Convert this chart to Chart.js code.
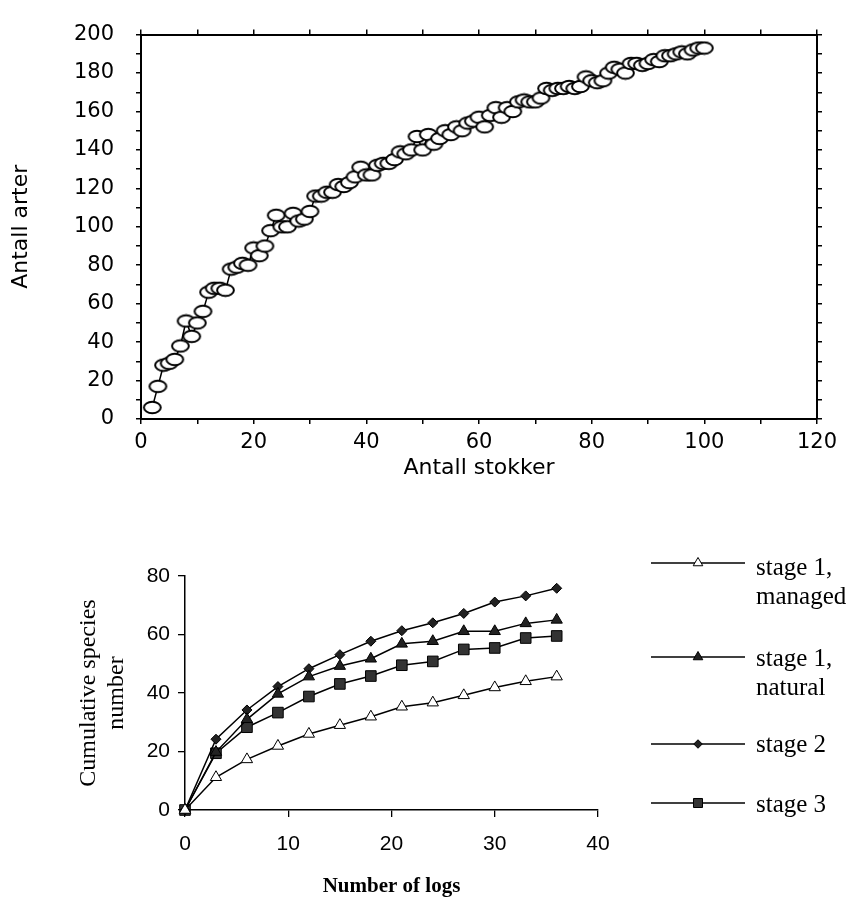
<!DOCTYPE html>
<html>
<head>
<meta charset="utf-8">
<script src="https://cdn.jsdelivr.net/npm/chart.js@4.4.1/dist/chart.umd.min.js"></script>
<style>
  body { margin: 0; background: #fff; width: 851px; height: 902px; position: relative; overflow: hidden; }
  #topChart { position: absolute; left: 0; top: 0; }
  #bottomChart { position: absolute; left: 0; top: 500px; }
</style>
</head>
<body>
<canvas id="topChart" width="851" height="500"></canvas>
<canvas id="bottomChart" width="851" height="402"></canvas>
<script>
// top chart: species accumulation (Antall stokker vs Antall arter)
const logs = [2, 3, 4, 5, 6, 7, 8, 9, 10, 11, 12, 13, 14, 15, 16, 17, 18, 19, 20,
	21, 22, 23, 24, 25, 26, 27, 28, 29, 30, 31, 32, 33, 34, 35, 36, 37, 38, 39, 40,
	41, 42, 43, 44, 45, 46, 47, 48, 49, 50, 51, 52, 53, 54, 55, 56, 57, 58, 59, 60,
	61, 62, 63, 64, 65, 66, 67, 68, 69, 70, 71, 72, 73, 74, 75, 76, 77, 78, 79, 80,
	81, 82, 83, 84, 85, 86, 87, 88, 89, 90, 91, 92, 93, 94, 95, 96, 97, 98, 99, 100];
const species = [6, 17, 28, 29, 31, 38, 51, 43, 50, 56, 66, 68, 68, 67, 78, 79, 81, 80, 89,
	85, 90, 98, 106, 100, 100, 107, 103, 104, 108, 116, 116, 118, 118, 122, 121, 123, 126, 131, 127,
	127, 132, 133, 133, 135, 139, 138, 140, 147, 140, 148, 143, 146, 150, 148, 152, 150, 154, 155, 157,
	152, 158, 162, 157, 162, 160, 165, 166, 165, 165, 167, 172, 171, 172, 172, 173, 172, 173, 178, 176,
	175, 176, 180, 183, 182, 180, 185, 185, 184, 185, 187, 186, 189, 189, 190, 191, 190, 192, 193, 193];
const topXTicks = [0, 10, 20, 30, 40, 50, 60, 70, 80, 90, 100, 110, 120];
const topXLabels = [0, 20, 40, 60, 80, 100, 120];
const topYTicks = [0, 10, 20, 30, 40, 50, 60, 70, 80, 90, 100, 110, 120, 130, 140, 150, 160, 170, 180, 190, 200];
const topYLabels = [0, 20, 40, 60, 80, 100, 120, 140, 160, 180, 200];

// bottom chart: cumulative species number by stage
const numLogs = [0, 3, 6, 9, 12, 15, 18, 21, 24, 27, 30, 33, 36];
const stage1Managed = [0, 11.2, 17.3, 21.9, 26, 29, 31.9, 35.3, 36.7, 39.2, 41.9, 44, 45.6];
const stage1Natural = [0, 19.8, 31, 39.7, 45.6, 49.2, 51.7, 56.8, 57.7, 61.1, 61.1, 63.8, 65];
const stage2 = [0, 24.2, 34.2, 42.2, 48.3, 53.1, 57.7, 61.3, 64, 67.2, 71.1, 73.2, 75.8];
const stage3 = [0, 19.4, 28.3, 33.3, 38.8, 43.1, 45.8, 49.5, 50.8, 54.9, 55.4, 58.8, 59.5];
const bottomXTicks = [0, 10, 20, 30, 40];
const bottomYTicks = [0, 20, 40, 60, 80];
const seriesLabels = [['stage 1,', 'managed'], ['stage 1,', 'natural'], ['stage 2'], ['stage 3']];

const sansFont = { family: '"DejaVu Sans", sans-serif', size: 21 };
const serifFont = '"Liberation Serif", "Times New Roman", serif';

// open ellipse marker used in the top chart
function makeEllipse() {
	const c = document.createElement('canvas');
	c.width = 21;
	c.height = 15;
	const g = c.getContext('2d');
	g.beginPath();
	g.ellipse(10.5, 7.5, 8.4, 5.7, 0, 0, Math.PI * 2);
	g.fillStyle = '#fff';
	g.fill();
	g.lineWidth = 2;
	g.strokeStyle = '#000';
	g.stroke();
	return c;
}

function tickList(list) {
	return (scale) => {
		scale.ticks = list.map((v) => ({ value: v }));
	};
}

function frameAxis(position, list, size) {
	const horiz = position === 'top' || position === 'bottom';
	return {
		type: 'linear',
		position: position,
		min: 0,
		max: horiz ? 120 : 200,
		afterBuildTicks: tickList(list),
		ticks: { display: false },
		grid: { drawOnChartArea: false, color: '#000', tickLength: 5, lineWidth: 1.5 },
		border: { color: '#000', width: 2 },
		afterFit: (s) => {
			if (horiz) s.height = size;
			else s.width = size;
		},
	};
}

new Chart(document.getElementById('topChart').getContext('2d'), {
	type: 'line',
	data: {
		datasets: [
			{
				data: logs.map((x, i) => ({ x: x, y: species[i] })),
				borderColor: '#000',
				borderWidth: 1.5,
				pointStyle: makeEllipse(),
				pointRadius: 8,
				tension: 0,
				clip: false,
				xAxisID: 'x',
				yAxisID: 'y',
			},
		],
	},
	options: {
		responsive: false,
		animation: false,
		layout: { padding: 0 },
		plugins: { legend: { display: false }, tooltip: { enabled: false } },
		scales: {
			x: {
				type: 'linear',
				position: 'bottom',
				min: 0,
				max: 120,
				afterBuildTicks: tickList(topXTicks),
				ticks: {
					autoSkip: false,
					maxRotation: 0,
					padding: 6,
					color: '#000',
					font: sansFont,
					callback: (v) => (topXLabels.includes(v) ? String(v) : ''),
				},
				grid: { drawOnChartArea: false, color: '#000', tickLength: 5, lineWidth: 1.5 },
				border: { color: '#000', width: 2 },
				title: {
					display: true,
					text: 'Antall stokker',
					color: '#000',
					font: { family: sansFont.family, size: 22 },
					padding: { top: 0, bottom: 19 },
				},
				afterFit: (s) => {
					s.height = 81;
				},
			},
			y: {
				type: 'linear',
				position: 'left',
				min: 0,
				max: 200,
				afterBuildTicks: tickList(topYTicks),
				ticks: {
					autoSkip: false,
					padding: 22,
					color: '#000',
					font: sansFont,
					callback: (v) => (topYLabels.includes(v) ? String(v) : ''),
				},
				grid: { drawOnChartArea: false, color: '#000', tickLength: 5, lineWidth: 1.5 },
				border: { color: '#000', width: 2 },
				title: {
					display: true,
					text: 'Antall arter',
					color: '#000',
					font: { family: sansFont.family, size: 22 },
					padding: { top: 8, bottom: 0 },
				},
				afterFit: (s) => {
					s.width = 141;
				},
			},
			x2: frameAxis('top', topXTicks, 19),
			y2: frameAxis('right', topYTicks, 34),
		},
	},
});

// legend drawn beside the bottom plot
const legendPlugin = {
	id: 'sideLegend',
	afterDraw(chart) {
		const ctx = chart.ctx;
		const rowY = [63, 157, 244, 303];
		const textY = [68, 159, 245, 305];
		chart.data.datasets.forEach((ds, i) => {
			ctx.save();
			ctx.strokeStyle = '#000';
			ctx.lineWidth = 1.5;
			ctx.beginPath();
			ctx.moveTo(651, rowY[i]);
			ctx.lineTo(745, rowY[i]);
			ctx.stroke();
			ctx.fillStyle = ds.pointBackgroundColor;
			ctx.strokeStyle = '#000';
			ctx.lineWidth = 1;
			Chart.helpers.drawPoint(ctx, { pointStyle: ds.pointStyle, radius: ds.pointRadius * 0.85, borderWidth: 1, rotation: 0 }, 698, rowY[i]);
			ctx.fillStyle = '#000';
			ctx.font = '25px ' + serifFont;
			ctx.textBaseline = 'middle';
			ctx.textAlign = 'left';
			seriesLabels[i].forEach((t, j) => ctx.fillText(t, 756, textY[i] + j * 29));
			ctx.restore();
		});
	},
};

function stageSet(values, i, style, fill, radius) {
	return {
		label: seriesLabels[i].join(' '),
		data: numLogs.map((x, k) => ({ x: x, y: values[k] })),
		borderColor: '#000',
		borderWidth: 1.5,
		pointStyle: style,
		pointBackgroundColor: fill,
		pointBorderColor: '#000',
		pointBorderWidth: 1,
		pointRadius: radius,
		tension: 0,
		clip: false,
	};
}

new Chart(document.getElementById('bottomChart').getContext('2d'), {
	type: 'line',
	data: {
		datasets: [
			stageSet(stage1Managed, 0, 'triangle', '#fff', 6.5),
			stageSet(stage1Natural, 1, 'triangle', '#222', 6.5),
			stageSet(stage2, 2, 'rectRot', '#222', 5),
			stageSet(stage3, 3, 'rect', '#333', 7.5),
		],
	},
	options: {
		responsive: false,
		animation: false,
		layout: { padding: { top: 76, right: 253, left: 0, bottom: 0 } },
		plugins: { legend: { display: false }, tooltip: { enabled: false } },
		scales: {
			x: {
				type: 'linear',
				min: 0,
				max: 40,
				afterBuildTicks: tickList(bottomXTicks),
				ticks: {
					autoSkip: false,
					maxRotation: 0,
					padding: 15,
					color: '#000',
					font: { family: '"Liberation Sans", sans-serif', size: 21 },
				},
				grid: { drawOnChartArea: false, color: '#000', tickLength: 7, lineWidth: 1.3 },
				border: { color: '#000', width: 1.5 },
				title: {
					display: true,
					text: 'Number of logs',
					color: '#000',
					font: { family: serifFont, size: 21, weight: 'bold' },
					padding: { top: 0, bottom: 3 },
				},
				afterFit: (s) => {
					s.height = 92;
				},
			},
			y: {
				type: 'linear',
				min: 0,
				max: 80,
				afterBuildTicks: tickList(bottomYTicks),
				ticks: {
					autoSkip: false,
					padding: 8,
					color: '#000',
					font: { family: '"Liberation Sans", sans-serif', size: 21 },
				},
				grid: { drawOnChartArea: false, color: '#000', tickLength: 7, lineWidth: 1.3 },
				border: { color: '#000', width: 1.5 },
				title: {
					display: true,
					text: ['Cumulative species', 'number'],
					color: '#000',
					font: { family: serifFont, size: 24, lineHeight: 1.2 },
					padding: { top: 74, bottom: 0 },
				},
				afterFit: (s) => {
					s.width = 185;
				},
			},
		},
	},
	plugins: [legendPlugin],
});
</script>
</body>
</html>
